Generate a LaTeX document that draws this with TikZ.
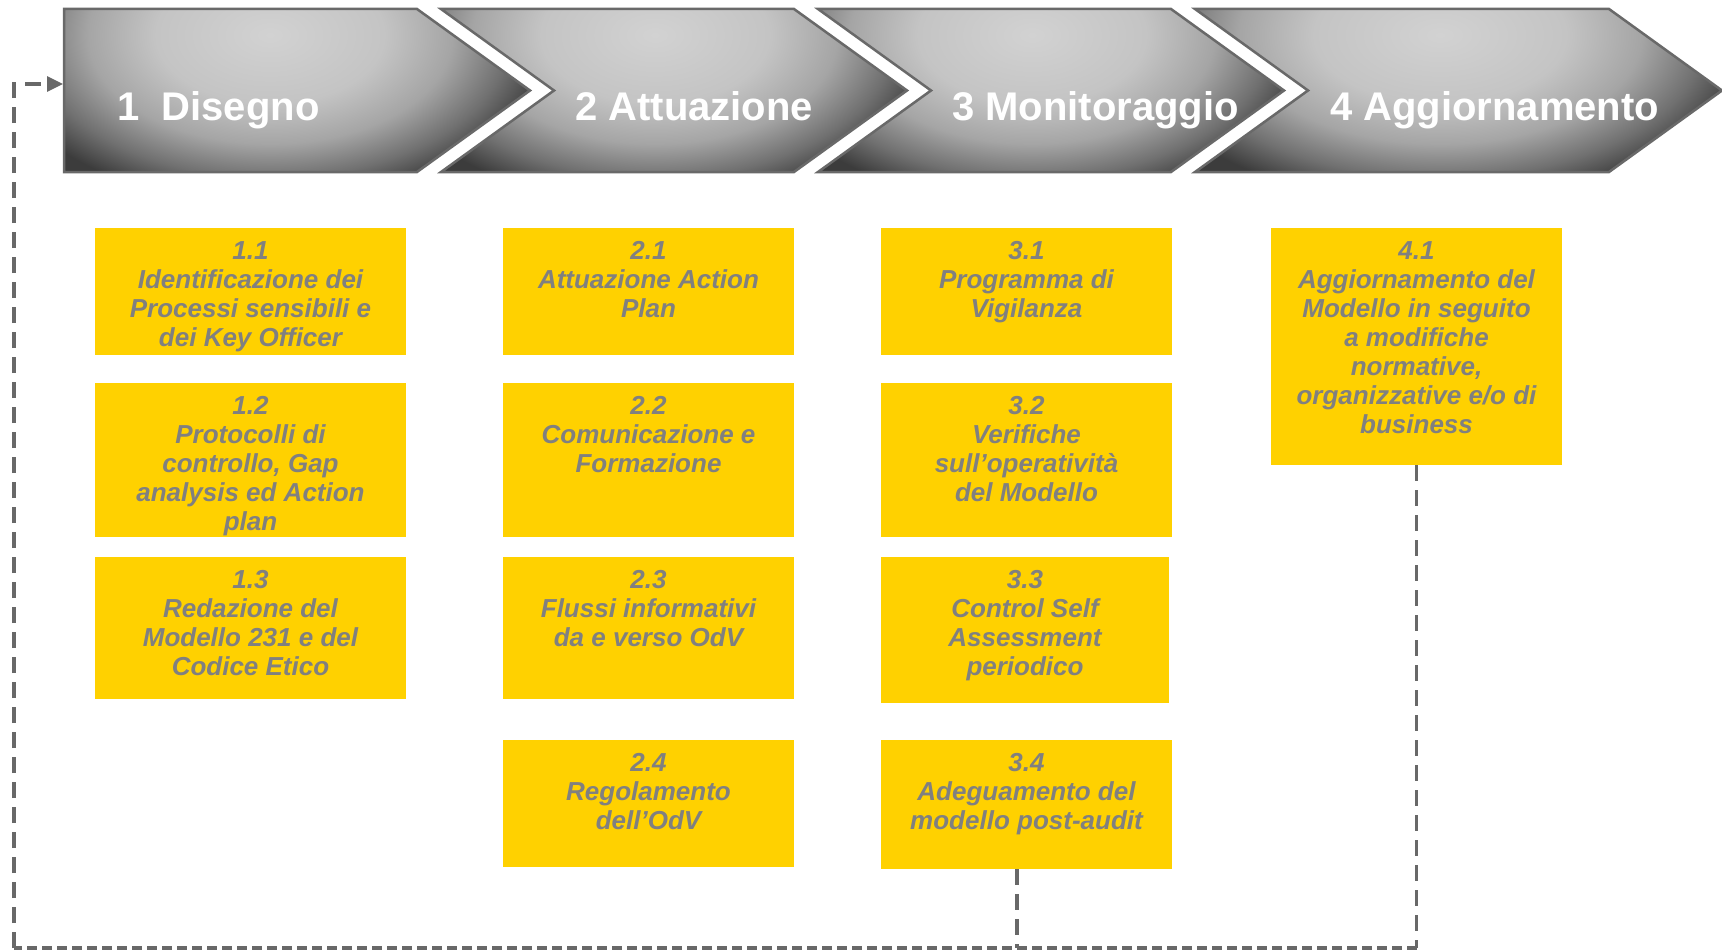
\documentclass[tikz,border=0pt]{standalone}
\usepackage{fontspec}
\setmainfont{Liberation Sans}
\usetikzlibrary{arrows.meta}

\definecolor{boxyellow}{RGB}{255,209,0}
\definecolor{boxtext}{RGB}{128,128,128}
\definecolor{chevlight}{RGB}{210,210,210}
\definecolor{chevsoft}{RGB}{196,196,196}
\definecolor{chevmid}{RGB}{165,165,165}
\definecolor{chevdeep}{RGB}{112,112,112}
\definecolor{chevdark}{RGB}{60,60,60}
\definecolor{chevedge}{RGB}{105,105,105}
\definecolor{flowline}{RGB}{104,104,104}

% soft glow used inside the phase arrows
\pgfdeclareradialshading{chevglow}{\pgfpoint{0bp}{0bp}}{%
  color(0bp)=(chevlight); color(10bp)=(chevsoft); color(16bp)=(chevmid);
  color(21bp)=(chevdeep); color(25bp)=(chevdark); color(50bp)=(chevdark)}

% #1 outline, #2 glow centre x, #3 glow half width
\newcommand\chevshape[3]{%
  \begin{scope}
    \clip #1;
    \shade[shading=chevglow] (#2-#3,-135) rectangle (#2+#3,205);
  \end{scope}
  \draw[chevedge, line width=2.5pt, line join=miter] #1;
}
\newcommand\boxstrut{\rule{0pt}{20pt}}

\begin{document}
\begin{tikzpicture}[x=1pt, y=-1pt,
  head/.style={anchor=base west, inner sep=0pt, text=white,
    font=\bfseries\fontsize{40}{48}\selectfont},
  ybox/.style={rectangle, fill=boxyellow, draw=none, inner sep=0pt},
  btxt/.style={anchor=north, inner sep=0pt, align=center, text=boxtext,
    font=\bfseries\itshape\fontsize{26}{29}\selectfont},
  vdash/.style={draw=flowline, line width=3.2pt, dash pattern=on 16pt off 9pt},
  hdash/.style={draw=flowline, line width=3.2pt, dash pattern=on 10pt off 5pt}]

\useasboundingbox[fill=white] (0,0) rectangle (1722,950);

% phase arrows
\chevshape{(64,9) -- (417,9) -- (530,90.5) -- (417,172) -- (64,172) -- cycle}{270}{285}
\chevshape{(441,9) -- (794,9) -- (907,90.5) -- (794,172) -- (441,172) -- (554,90.5) -- cycle}{655}{285}
\chevshape{(818,9) -- (1171,9) -- (1284,90.5) -- (1171,172) -- (818,172) -- (931,90.5) -- cycle}{1032}{285}
\chevshape{(1195,9) -- (1609,9) -- (1722,90.5) -- (1609,172) -- (1195,172) -- (1308,90.5) -- cycle}{1440}{315}

\node[head] (h1) at (117,120) {1~~Disegno};
\node[head] (h2) at (575,120) {2 Attuazione};
\node[head] (h3) at (952,120) {3 Monitoraggio};
\node[head] (h4) at (1330,120) {4 Aggiornamento};

% activity boxes
\node[ybox, minimum width=311pt, minimum height=127pt] (b11) at (250.5,291.5) {};
\node[ybox, minimum width=311pt, minimum height=154pt] (b12) at (250.5,460) {};
\node[ybox, minimum width=311pt, minimum height=142pt] (b13) at (250.5,628) {};

\node[ybox, minimum width=291pt, minimum height=127pt] (b21) at (648.5,291.5) {};
\node[ybox, minimum width=291pt, minimum height=154pt] (b22) at (648.5,460) {};
\node[ybox, minimum width=291pt, minimum height=142pt] (b23) at (648.5,628) {};
\node[ybox, minimum width=291pt, minimum height=127pt] (b24) at (648.5,803.5) {};

\node[ybox, minimum width=291pt, minimum height=127pt] (b31) at (1026.5,291.5) {};
\node[ybox, minimum width=291pt, minimum height=154pt] (b32) at (1026.5,460) {};
\node[ybox, minimum width=288pt, minimum height=146pt] (b33) at (1025,630) {};
\node[ybox, minimum width=291pt, minimum height=129pt] (b34) at (1026.5,804.5) {};

\node[ybox, minimum width=291pt, minimum height=237pt] (b41) at (1416.5,346.5) {};

\node[btxt] (t11) at ([yshift=-11pt]b11.north) {\boxstrut 1.1\\Identificazione dei\\Processi sensibili e\\dei Key Officer};
\node[btxt] (t12) at ([yshift=-11pt]b12.north) {\boxstrut 1.2\\Protocolli di\\controllo, Gap\\analysis ed Action\\plan};
\node[btxt] (t13) at ([yshift=-11pt]b13.north) {\boxstrut 1.3\\Redazione del\\Modello 231 e del\\Codice Etico};

\node[btxt] (t21) at ([yshift=-11pt]b21.north) {\boxstrut 2.1\\Attuazione Action\\Plan};
\node[btxt] (t22) at ([yshift=-11pt]b22.north) {\boxstrut 2.2\\Comunicazione e\\Formazione};
\node[btxt] (t23) at ([yshift=-11pt]b23.north) {\boxstrut 2.3\\Flussi informativi\\da e verso OdV};
\node[btxt] (t24) at ([yshift=-11pt]b24.north) {\boxstrut 2.4\\Regolamento\\dell’OdV};

\node[btxt] (t31) at ([yshift=-11pt]b31.north) {\boxstrut 3.1\\Programma di\\Vigilanza};
\node[btxt] (t32) at ([yshift=-11pt]b32.north) {\boxstrut 3.2\\Verifiche\\sull’operatività\\del Modello};
\node[btxt] (t33) at ([yshift=-11pt]b33.north) {\boxstrut 3.3\\Control Self\\Assessment\\periodico};
\node[btxt] (t34) at ([yshift=-11pt]b34.north) {\boxstrut 3.4\\Adeguamento del\\modello post-audit};

\node[btxt] (t41) at ([yshift=-11pt]b41.north) {\boxstrut 4.1\\Aggiornamento del\\Modello in seguito\\a modifiche\\normative,\\organizzative e/o di\\business};

% feedback loop back to the first phase
\coordinate (j34) at (1017,948);
\coordinate (j41) at (1416.5,948);
\coordinate (loopBL) at (14,948);
\coordinate (loopTL) at (14,84);
\coordinate (c1in) at (63,84);

\draw[vdash] ([xshift=-9.5pt]b34.south) -- (j34);
\draw[vdash] (b41.south) -- (j41);
\draw[hdash] (j41) -- (loopBL);
\draw[vdash, -{Triangle[length=16pt, width=15pt]}] (loopBL) -- (loopTL) -- (c1in);
\end{tikzpicture}
\end{document}
